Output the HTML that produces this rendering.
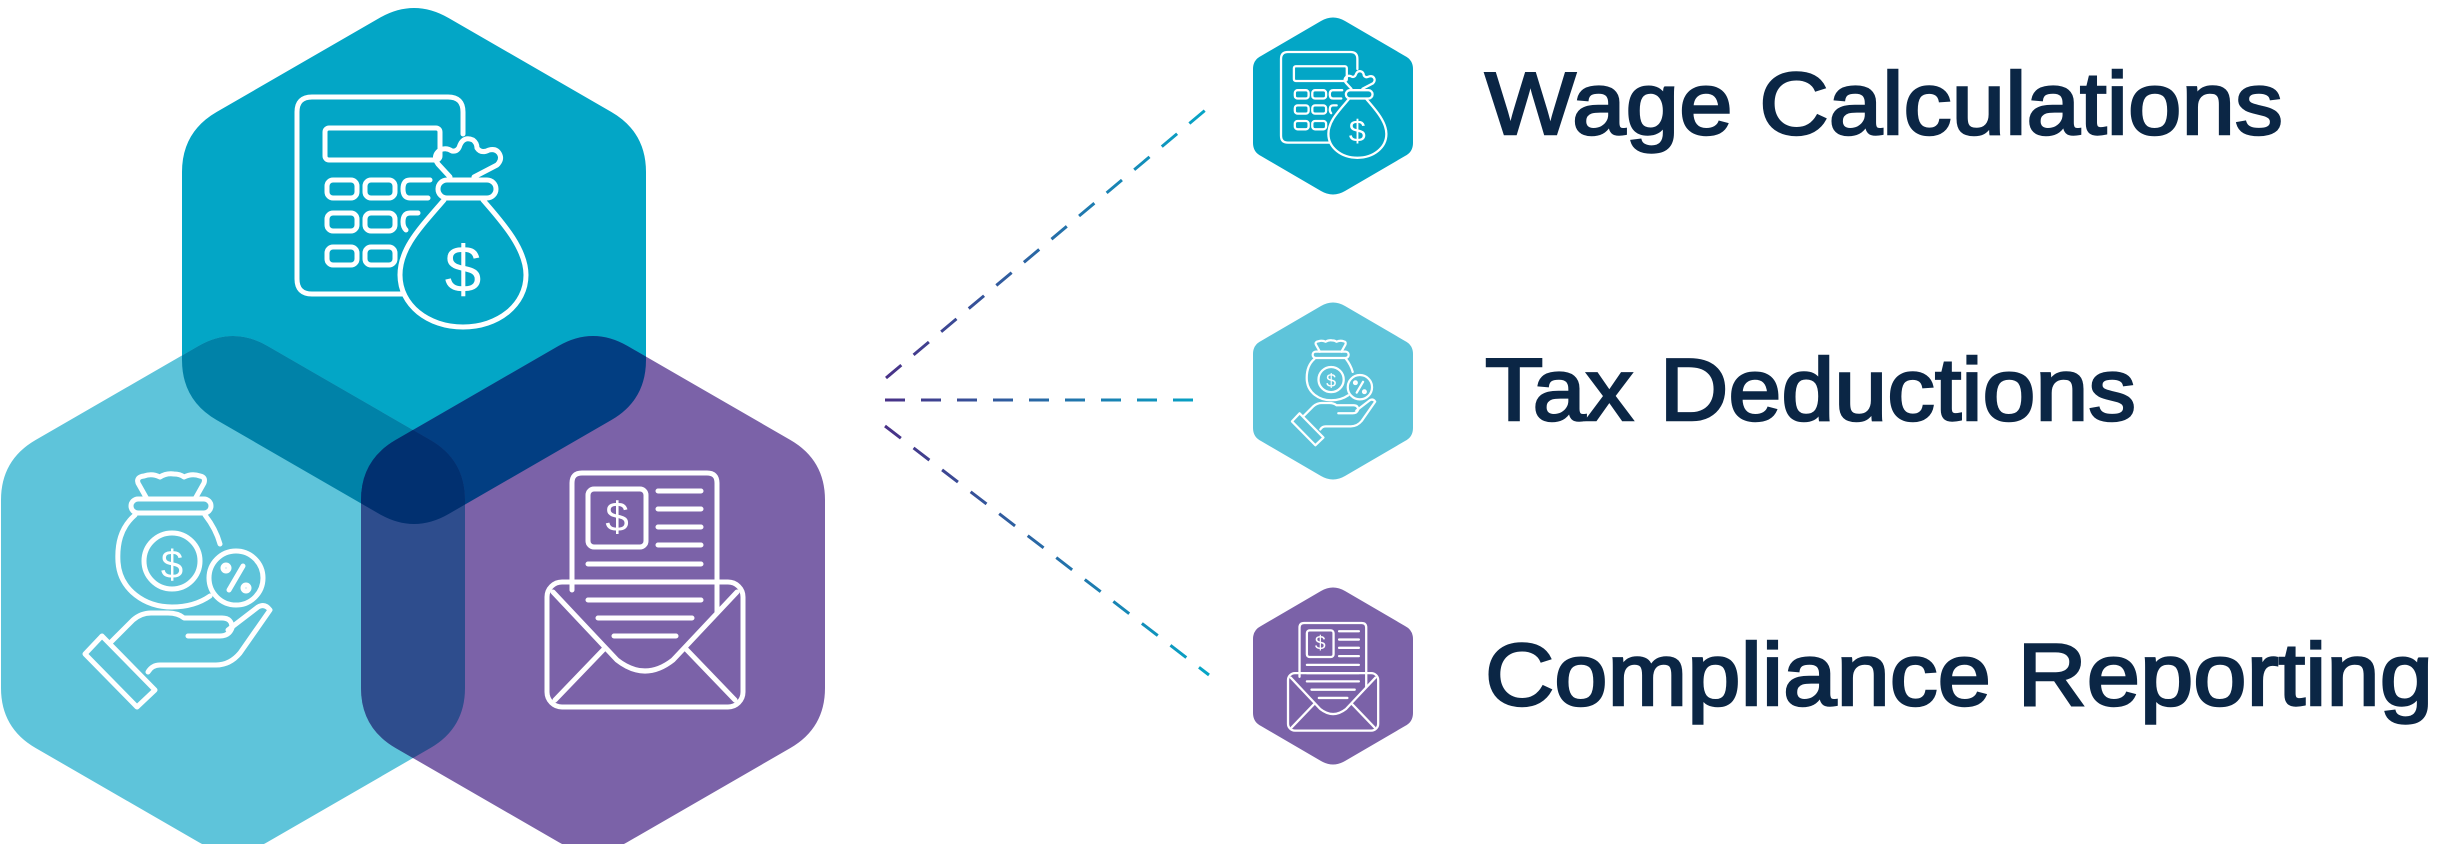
<!DOCTYPE html>
<html><head><meta charset="utf-8"><style>
html,body{margin:0;padding:0;background:#fff;width:2440px;height:844px;overflow:hidden}
svg{display:block}
</style></head><body>
<svg width="2440" height="844" viewBox="0 0 2440 844" xmlns="http://www.w3.org/2000/svg">
<defs>
<path id="hx" d="M-34.6,-248 Q0,-268 34.6,-248 L197.4,-154 Q232,-134 232,-94 L232,94 Q232,134 197.4,154 L34.6,248 Q0,268 -34.6,248 L-197.4,154 Q-232,134 -232,94 L-232,-94 Q-232,-134 -197.4,-154 Z"/>
<path id="sx" d="M-12,-85 Q0,-92 12,-85 L72,-50 Q80,-46 80,-37 L80,37 Q80,46 72,50 L12,85 Q0,92 -12,85 L-72,50 Q-80,46 -80,37 L-80,-37 Q-80,-46 -72,-50 Z"/>
<clipPath id="cT"><use href="#hx" transform="translate(414,266)"/></clipPath>
<clipPath id="cL"><use href="#hx" transform="translate(233,594)"/></clipPath>
<linearGradient id="gd" x1="880" y1="0" x2="1212" y2="0" gradientUnits="userSpaceOnUse">
<stop offset="0" stop-color="#4a2f86"/><stop offset="1" stop-color="#04a7c7"/></linearGradient>

<g id="ic1" fill="none" stroke="#fff" stroke-width="5" stroke-linecap="round" stroke-linejoin="round">
<path d="M402,294 H312 q-15 0 -15 -15 V112 q0 -15 15 -15 H448 q15 0 15 15 V134"/>
<rect x="325" y="128" width="115" height="32" rx="4"/>
<rect x="327" y="180" width="30" height="18" rx="6"/><rect x="365" y="180" width="30" height="18" rx="6"/><path d="M430,180 H410 q-7 0 -7 9 q0 9 7 9 H428"/>
<rect x="327" y="213" width="30" height="18" rx="6"/><rect x="365" y="213" width="30" height="18" rx="6"/><path d="M418,213 H410 q-7 0 -7 9 q0 5 3 8"/>
<rect x="327" y="247" width="30" height="18" rx="6"/><rect x="365" y="247" width="30" height="18" rx="6"/>
<path d="M450,177 L438,164 q-6 -8 2 -14 q6 -3 12 1 q6 1 8 -6 q4 -9 13 -5 q4 3 4 8 q4 6 12 2 q8 -2 11 5 q2 5 -3 10 L474,177"/>
<rect x="438" y="180" width="58" height="18" rx="9"/>
<path d="M444,200 C420,228 400,248 400,275 C400,305 428,327 463,327 C498,327 526,305 526,275 C526,250 505,225 483,200"/>
</g>

<g id="ic2" fill="none" stroke="#fff" stroke-width="5" stroke-linecap="round" stroke-linejoin="round">
<path d="M147,499 L138,483 q-2 -6 6 -7 q8 -3 16 1 q6 -4 14 -3 q6 0 10 3 q8 -4 16 -1 q6 1 4 7 L195,499"/>
<rect x="131" y="499" width="80" height="14" rx="7"/>
<path d="M135,515 C120,528 117,545 118,562 C120,590 145,607 172,607 C188,607 200,603 210,596 M220,544 C217,533 212,524 205,515"/>
<circle cx="172" cy="561" r="28"/>
<circle cx="236" cy="578" r="27"/>
<path d="M229,590 L243,566"/><circle cx="226" cy="568" r="3"/><circle cx="246" cy="588" r="3"/>
<path d="M85,654 L102,636 L155,690 L137,707 Z"/>
<path d="M110,643 L133,620 q8 -7 18 -7 H168 q10 0 16 5 H222 q10 0 10 10 q-3 8 -12 8 H188"/>
<path d="M228,630 L258,607 q7 -4 12 3 L240,653 q-10 12 -24 12 H160 q-8 0 -12 7"/>
</g>

<g id="ic3" fill="none" stroke="#fff" stroke-width="5" stroke-linecap="round" stroke-linejoin="round">
<path d="M572,590 V483 q0 -10 10 -10 H707 q10 0 10 10 V612"/>
<rect x="588" y="489" width="58" height="58" rx="6"/>
<path d="M658,491 H701 M658,509 H701 M658,527 H701 M658,545 H701 M588,564 H701 M588,582 H701 M588,600 H701 M598,618 H692 M614,636 H676"/>
<rect x="547" y="582" width="196" height="125" rx="15"/>
<path d="M553,592 L617,660 q28 22 56 0 L737,592"/>
<path d="M555,700 L605,648 M735,700 L685,648"/>
</g>
</defs>

<!-- big hexes -->
<use href="#hx" transform="translate(414,266)" fill="#03a6c6"/>
<use href="#hx" transform="translate(233,594)" fill="#5ec4da"/>
<use href="#hx" transform="translate(593,594)" fill="#7b62a8"/>
<g clip-path="url(#cT)"><use href="#hx" transform="translate(233,594)" fill="#0082a8"/><use href="#hx" transform="translate(593,594)" fill="#023e82"/></g>
<g clip-path="url(#cL)"><use href="#hx" transform="translate(593,594)" fill="#2e4d8d"/></g>
<g clip-path="url(#cL)"><g clip-path="url(#cT)"><use href="#hx" transform="translate(593,594)" fill="#013070"/></g></g>

<use href="#ic1"/>
<text x="463" y="292" font-family="Liberation Sans, sans-serif" font-size="66" fill="#fff" text-anchor="middle">$</text>
<use href="#ic2"/>
<text x="172" y="578" font-family="Liberation Sans, sans-serif" font-size="40" fill="#fff" text-anchor="middle">$</text>
<use href="#ic3"/>
<text x="617" y="531" font-family="Liberation Sans, sans-serif" font-size="42" fill="#fff" text-anchor="middle">$</text>

<!-- dashed connectors -->
<g stroke="url(#gd)" stroke-width="3" fill="none" stroke-dasharray="20 16">
<line x1="886" y1="378" x2="1209" y2="107"/>
<line x1="885" y1="400" x2="1209" y2="400"/>
<line x1="885" y1="426" x2="1209" y2="675"/>
</g>

<!-- small hexes -->
<use href="#sx" transform="translate(1333,106)" fill="#03a6c6"/>
<use href="#sx" transform="translate(1333,391)" fill="#5ec4da"/>
<use href="#sx" transform="translate(1333,676)" fill="#7b62a8"/>

<g transform="translate(1144.4,7.4) scale(0.46)"><use href="#ic1"/><text x="463" y="292" font-family="Liberation Sans, sans-serif" font-size="66" fill="#fff" text-anchor="middle">$</text></g>
<g transform="translate(1253.7,127.1) scale(0.45)"><use href="#ic2"/><text x="172" y="578" font-family="Liberation Sans, sans-serif" font-size="40" fill="#fff" text-anchor="middle">$</text></g>
<g transform="translate(1036.4,405.4) scale(0.46)"><use href="#ic3"/><text x="617" y="531" font-family="Liberation Sans, sans-serif" font-size="42" fill="#fff" text-anchor="middle">$</text></g>

<!-- labels -->
<g font-family="Liberation Sans, sans-serif" font-size="88" fill="#0b2645" stroke="#0b2645" stroke-width="2.5">
<text x="1485" y="134" textLength="798" lengthAdjust="spacingAndGlyphs">Wage Calculations</text>
<text x="1485" y="420" textLength="651" lengthAdjust="spacingAndGlyphs">Tax Deductions</text>
<text x="1485" y="705" textLength="948" lengthAdjust="spacingAndGlyphs">Compliance Reporting</text>
</g>
</svg>
</body></html>
